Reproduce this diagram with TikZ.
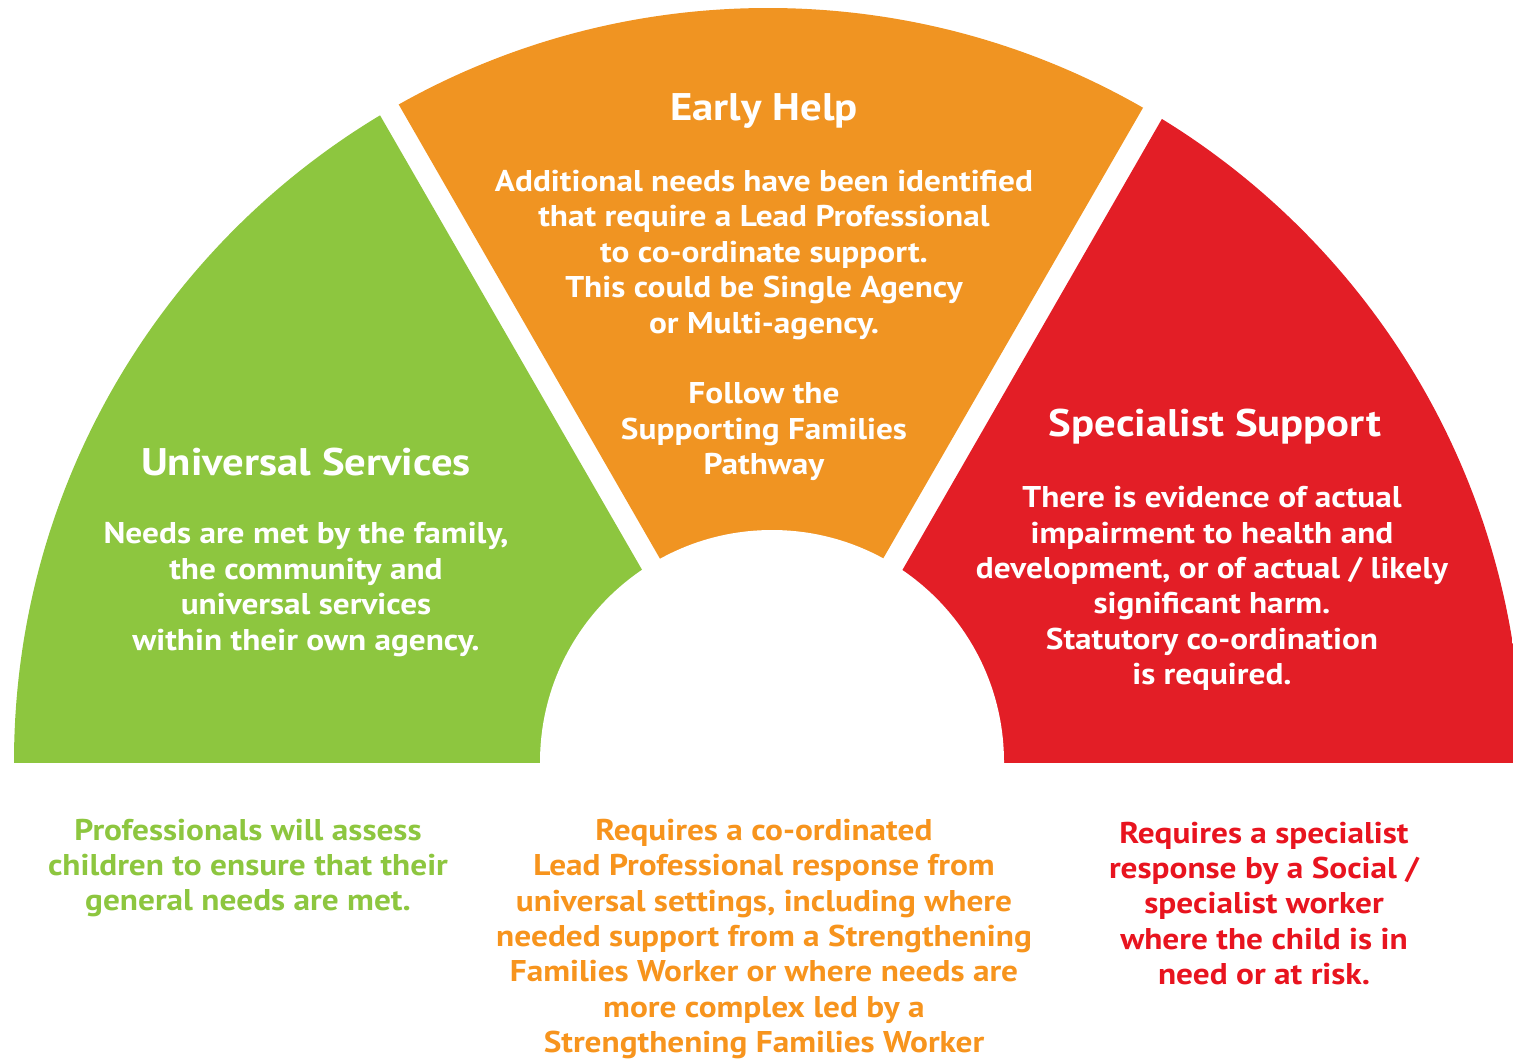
\documentclass[tikz,border=0pt]{standalone}
\usepackage{fontspec}
\setmainfont[FakeStretch=1.11]{PT Sans}
\definecolor{cgreen}{HTML}{8DC63F}
\definecolor{corange}{HTML}{F09422}
\definecolor{cred}{HTML}{E31E26}
\definecolor{tgreen}{HTML}{8DC63F}
\definecolor{torange}{HTML}{F7941D}
\definecolor{tred}{HTML}{E8141F}
\begin{document}
\begin{tikzpicture}[x=1pt,y=-1pt,
  titletext/.style={font=\bfseries\fontsize{38.5}{44}\selectfont, text=white, align=center, inner sep=0pt},
  bodytext/.style={font=\bfseries\fontsize{30}{35.4}\selectfont, text=white, align=center, inner sep=0pt},
  lowtext/.style={font=\bfseries\fontsize{30}{35.4}\selectfont, align=center, inner sep=0pt}]
\useasboundingbox (0,0) rectangle (1513,1058);
% sector edge coordinates
\coordinate (gA) at (121,-334);  \coordinate (gB) at (901,1019);
\coordinate (oL1) at (139,-347); \coordinate (oL2) at (659,557);
\coordinate (oR1) at (1404,-345); \coordinate (oR2) at (884,557);
\coordinate (rA) at (1423,-335); \coordinate (rB) at (643,1021);
\begin{scope}
  \clip (-10,762) rectangle (1530,-10);
  \clip (768,762) circle [radius=754pt];
  \fill[cgreen] (gA) -- (gB) -- (-100,1019) -- (-100,-334) -- cycle;
  \fill[corange] (oL1) -- (intersection of oL1--oL2 and oR1--oR2) -- (oR1) -- cycle;
  \fill[cred] (rA) -- (rB) -- (1700,1021) -- (1700,-335) -- cycle;
\end{scope}
\fill[white] (772,762) circle [radius=232pt];

% texts inside sectors
\node[titletext] (ehT) at (764,111) {Early Help};
\node[bodytext] (ehB) at (764,325.5) {Additional needs have been identified\\that require a Lead Professional\\to co-ordinate support.\\This could be Single Agency\\or Multi-agency.\\[35.4pt]Follow the\\Supporting Families\\Pathway};
\node[titletext] (usT) at (306,462) {Universal Services};
\node[bodytext] (usB) at (306,589.5) {Needs are met by the family,\\the community and\\universal services\\within their own agency.};
\node[titletext] (ssT) at (1215,427) {Specialist Support};
\node[bodytext] (ssB) at (1212,588.5) {There is evidence of actual\\impairment to health and\\development, or of actual / likely\\significant harm.\\Statutory co-ordination\\is required.};

% texts below
\node[lowtext, text=tgreen] (gL) at (248,868) {Professionals will assess\\children to ensure that their\\general needs are met.};
\node[lowtext, text=torange] (oL) at (764,939) {Requires a co-ordinated\\Lead Professional response from\\universal settings, including where\\needed support from a Strengthening\\Families Worker or where needs are\\more complex led by a\\Strengthening Families Worker};
\node[lowtext, text=tred] (rL) at (1264,903.5) {Requires a specialist\\response by a Social /\\specialist worker\\where the child is in\\need or at risk.};
\end{tikzpicture}
\end{document}
